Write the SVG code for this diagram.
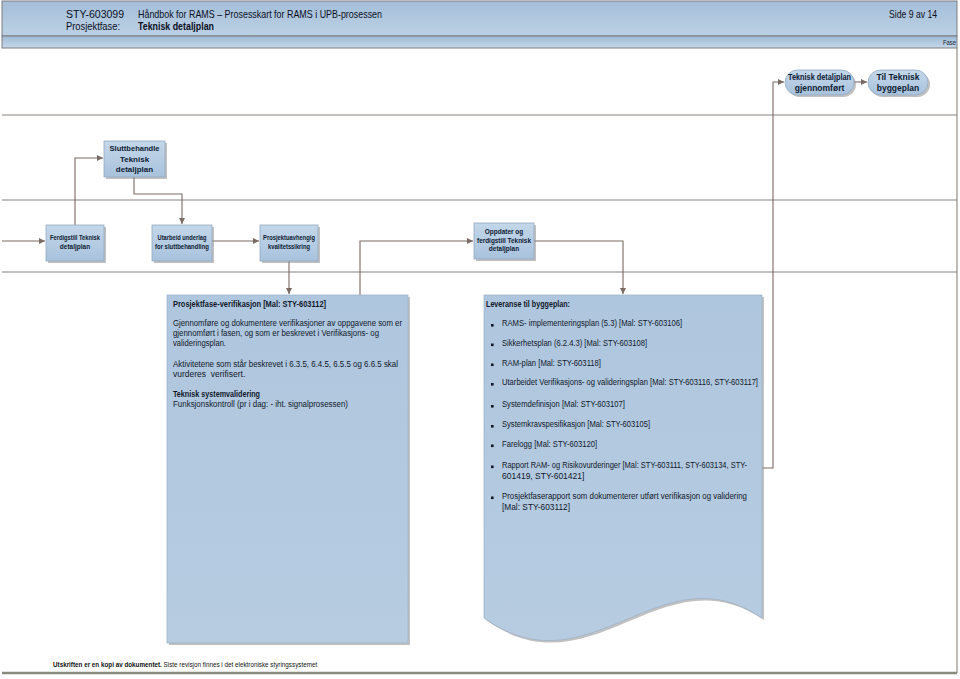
<svg xmlns="http://www.w3.org/2000/svg" width="960" height="679" viewBox="0 0 960 679">
<defs>
<linearGradient id="hdr" x1="0" y1="0" x2="0" y2="1"><stop offset="0" stop-color="#a4bfd9"/><stop offset="1" stop-color="#bcd0e4"/></linearGradient>
<linearGradient id="fase" x1="0" y1="0" x2="0" y2="1"><stop offset="0" stop-color="#9dbad5"/><stop offset="1" stop-color="#c6d8ea"/></linearGradient>
<linearGradient id="node" x1="0" y1="0" x2="0" y2="1"><stop offset="0" stop-color="#c4d7ea"/><stop offset="1" stop-color="#a8c2dc"/></linearGradient>
<linearGradient id="big" x1="0" y1="0" x2="0" y2="1"><stop offset="0" stop-color="#aec6de"/><stop offset="1" stop-color="#b7cce1"/></linearGradient>
<marker id="ah" markerWidth="8" markerHeight="8" refX="6" refY="3" orient="auto" markerUnits="userSpaceOnUse"><path d="M0,0 L6,3 L0,6 z" fill="#7a6b64"/></marker>
<style>
.hd{font-family:"Liberation Sans",Arial,sans-serif;font-size:11px;fill:#0a0f1e}
.nt{font-family:"Liberation Sans",Arial,sans-serif;font-weight:bold;fill:#0d1b33;text-anchor:middle}
.bt{font-family:"Liberation Sans",Arial,sans-serif;font-size:8.5px;fill:#10182a}
.b{font-weight:bold}
.ln{stroke:#8a827c;stroke-width:1.1;fill:none}
.cn{stroke:#7a6b64;stroke-width:1.1;fill:none;marker-end:url(#ah)}
.sh{fill:#8e8e8e;opacity:0.55}
.nd{fill:url(#node);stroke:#94a9c0;stroke-width:0.8}
.bg{fill:url(#big);stroke:#9fb3c8;stroke-width:0.8}
</style>
</defs>
<rect width="960" height="679" fill="#ffffff"/>
<g id="header">
<rect x="2" y="1" width="955" height="35" fill="url(#hdr)" stroke="#7d7d80" stroke-width="1"/>
<rect x="2" y="36" width="955" height="12" fill="url(#fase)" stroke="#7d7d80" stroke-width="1"/>
<text class="hd" x="66" y="17.5" textLength="58" lengthAdjust="spacingAndGlyphs">STY-603099</text>
<text class="hd" x="138" y="17.5" textLength="244" lengthAdjust="spacingAndGlyphs">Håndbok for RAMS – Prosesskart for RAMS i UPB-prosessen</text>
<text class="hd" x="66" y="29.5" textLength="54" lengthAdjust="spacingAndGlyphs">Prosjektfase:</text>
<text class="hd b" x="138" y="29.5" textLength="76" lengthAdjust="spacingAndGlyphs">Teknisk detaljplan</text>
<text class="hd" x="889" y="17.5" textLength="48" lengthAdjust="spacingAndGlyphs">Side 9 av 14</text>
<text x="943" y="45" font-family="Liberation Sans,Arial,sans-serif" font-size="6.5" fill="#1a2233" textLength="13" lengthAdjust="spacingAndGlyphs">Fase</text>
</g>
<g id="lanes">
<line class="ln" x1="2" y1="115" x2="957" y2="115"/>
<line class="ln" x1="2" y1="200" x2="957" y2="200"/>
<line class="ln" x1="2" y1="272" x2="957" y2="272"/>
<line class="ln" x1="957" y1="48" x2="957" y2="673"/>
<line x1="2" y1="673" x2="957" y2="673" stroke="#8a8a80" stroke-width="2.5"/>
</g>
<g id="connectors">
<path class="cn" d="M2,241 H45"/>
<path class="cn" d="M75,225 V158 H103"/>
<path class="cn" d="M134,177 V194 H182 V224"/>
<path class="cn" d="M212,241 H259"/>
<path class="cn" d="M289,261 V294"/>
<path class="cn" d="M360,295 V241 H473"/>
<path class="cn" d="M534,241 H623 V294"/>
<path class="cn" d="M762,468 H773 V82 H784"/>
<path class="cn" d="M854,82 H867"/>
</g>
<g id="n_gjennomfort">
<rect class="sh" x="787" y="72" width="69" height="25" rx="12.5"/>
<rect class="nd" x="785" y="70" width="69" height="25" rx="12.5" stroke="#8797ad"/>
<text class="nt" font-size="8.5" x="819.5" y="80" textLength="63" lengthAdjust="spacingAndGlyphs">Teknisk detaljplan</text>
<text class="nt" font-size="8.5" x="819.5" y="91">gjennomført</text>
</g>
<g id="n_byggeplan">
<rect class="sh" x="870" y="72" width="60" height="25" rx="12.5"/>
<rect class="nd" x="868" y="70" width="60" height="25" rx="12.5" stroke="#8797ad"/>
<text class="nt" font-size="8.5" x="898" y="80">Til Teknisk</text>
<text class="nt" font-size="8.5" x="898" y="91">byggeplan</text>
</g>
<g id="n_sluttbehandle">
<rect class="sh" x="106" y="143" width="61" height="36"/>
<rect class="nd" x="104" y="141" width="61" height="36"/>
<text class="nt" font-size="8" x="134.5" y="151" textLength="50" lengthAdjust="spacingAndGlyphs">Sluttbehandle</text>
<text class="nt" font-size="8" x="134.5" y="161.5">Teknisk</text>
<text class="nt" font-size="8" x="134.5" y="172">detaljplan</text>
</g>
<g id="n_ferdigstill">
<rect class="sh" x="48" y="227" width="58" height="36"/>
<rect class="nd" x="46" y="225" width="58" height="36"/>
<text class="nt" font-size="6.5" x="75" y="240" textLength="50" lengthAdjust="spacingAndGlyphs">Ferdigstill Teknisk</text>
<text class="nt" font-size="6.5" x="75" y="249">detaljplan</text>
</g>
<g id="n_utarbeid">
<rect class="sh" x="154" y="227" width="60" height="36"/>
<rect class="nd" x="152" y="225" width="60" height="36"/>
<text class="nt" font-size="6.5" x="182" y="240" textLength="49" lengthAdjust="spacingAndGlyphs">Utarbeid underlag</text>
<text class="nt" font-size="6.5" x="182" y="249" textLength="54" lengthAdjust="spacingAndGlyphs">for sluttbehandling</text>
</g>
<g id="n_prosjektuavhengig">
<rect class="sh" x="262" y="227" width="58" height="36"/>
<rect class="nd" x="260" y="225" width="58" height="36"/>
<text class="nt" font-size="6.5" x="289" y="240" textLength="52" lengthAdjust="spacingAndGlyphs">Prosjektuavhengig</text>
<text class="nt" font-size="6.5" x="289" y="249" textLength="42" lengthAdjust="spacingAndGlyphs">kvalitetssikring</text>
</g>
<g id="n_oppdater">
<rect class="sh" x="476" y="225" width="60" height="36"/>
<rect class="nd" x="474" y="223" width="60" height="36"/>
<text class="nt" font-size="6.5" x="504" y="234">Oppdater og</text>
<text class="nt" font-size="6.5" x="504" y="242.5" textLength="54" lengthAdjust="spacingAndGlyphs">ferdigstill Teknisk</text>
<text class="nt" font-size="6.5" x="504" y="251">detaljplan</text>
</g>
<g id="n_verifikasjon">
<rect class="sh" x="169" y="297" width="241" height="348"/>
<rect class="bg" x="167" y="295" width="241" height="348"/>
<text class="bt b" x="173" y="307" textLength="153" lengthAdjust="spacingAndGlyphs">Prosjektfase-verifikasjon [Mal: STY-603112]</text>
<text class="bt" x="173" y="326" textLength="229" lengthAdjust="spacingAndGlyphs">Gjennomføre og dokumentere verifikasjoner av oppgavene som er</text>
<text class="bt" x="173" y="336" textLength="206" lengthAdjust="spacingAndGlyphs">gjennomført i fasen, og som er beskrevet i Verifikasjons- og</text>
<text class="bt" x="173" y="345.5" textLength="53" lengthAdjust="spacingAndGlyphs">valideringsplan.</text>
<text class="bt" x="173" y="367" textLength="225" lengthAdjust="spacingAndGlyphs">Aktivitetene som står beskrevet i  6.3.5, 6.4.5, 6.5.5 og 6.6.5 skal</text>
<text class="bt" x="173" y="377" xml:space="preserve">vurderes  verifisert.</text>
<text class="bt b" x="173" y="397" textLength="87" lengthAdjust="spacingAndGlyphs">Teknisk systemvalidering</text>
<text class="bt" x="173" y="407" textLength="175" lengthAdjust="spacingAndGlyphs">Funksjonskontroll (pr i dag: - iht. signalprosessen)</text>
</g>
<g id="n_leveranse">
<path class="sh" d="M486,297 H764 V620 C662,550 592,696 486,620 Z"/>
<path class="bg" d="M484,295 H762 V618 C660,548 590,694 484,618 Z"/>
<text class="bt b" x="486" y="307" textLength="84" lengthAdjust="spacingAndGlyphs">Leveranse til byggeplan:</text>
<g fill="#10182a">
<rect x="491" y="324" width="2.6" height="2.6"/>
<rect x="491" y="343.5" width="2.6" height="2.6"/>
<rect x="491" y="363.5" width="2.6" height="2.6"/>
<rect x="491" y="383" width="2.6" height="2.6"/>
<rect x="491" y="405" width="2.6" height="2.6"/>
<rect x="491" y="425" width="2.6" height="2.6"/>
<rect x="491" y="444.5" width="2.6" height="2.6"/>
<rect x="491" y="465.5" width="2.6" height="2.6"/>
<rect x="491" y="496.5" width="2.6" height="2.6"/>
</g>
<text class="bt" x="502" y="326" textLength="180" lengthAdjust="spacingAndGlyphs">RAMS- implementeringsplan (5.3) [Mal: STY-603106]</text>
<text class="bt" x="502" y="345.5" textLength="145" lengthAdjust="spacingAndGlyphs">Sikkerhetsplan (6.2.4.3) [Mal: STY-603108]</text>
<text class="bt" x="502" y="365.5" textLength="99" lengthAdjust="spacingAndGlyphs">RAM-plan [Mal: STY-603118]</text>
<text class="bt" x="502" y="385" textLength="256" lengthAdjust="spacingAndGlyphs">Utarbeidet Verifikasjons- og valideringsplan [Mal: STY-603116, STY-603117]</text>
<text class="bt" x="502" y="407" textLength="123" lengthAdjust="spacingAndGlyphs">Systemdefinisjon [Mal: STY-603107]</text>
<text class="bt" x="502" y="427" textLength="148" lengthAdjust="spacingAndGlyphs">Systemkravspesifikasjon [Mal: STY-603105]</text>
<text class="bt" x="502" y="446.5" textLength="95" lengthAdjust="spacingAndGlyphs">Farelogg [Mal: STY-603120]</text>
<text class="bt" x="502" y="467.5" textLength="245" lengthAdjust="spacingAndGlyphs">Rapport RAM- og Risikovurderinger [Mal: STY-603111, STY-603134, STY-</text>
<text class="bt" x="502" y="478.5">601419, STY-601421]</text>
<text class="bt" x="502" y="498.5" textLength="245" lengthAdjust="spacingAndGlyphs">Prosjektfaserapport som dokumenterer utført verifikasjon og validering</text>
<text class="bt" x="502" y="509.5" textLength="68" lengthAdjust="spacingAndGlyphs">[Mal: STY-603112]</text>
</g>
<g id="footer">
<text x="53" y="667" font-family="Liberation Sans,Arial,sans-serif" font-size="6.3" fill="#111"><tspan font-weight="bold">Utskriften er en kopi av dokumentet.</tspan> Siste revisjon finnes i det elektroniske styringssystemet</text>
</g>
</svg>
